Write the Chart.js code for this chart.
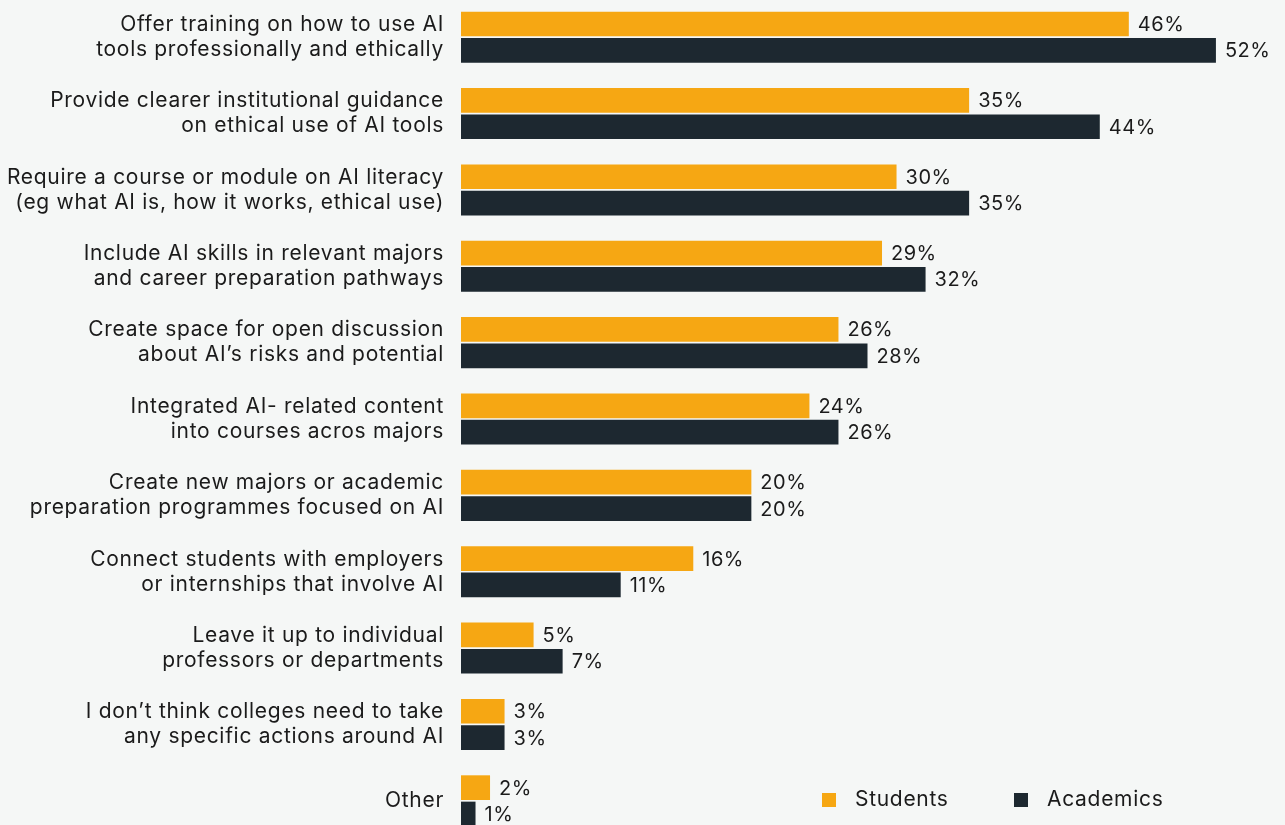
<!DOCTYPE html>
<html>
<head>
<meta charset="utf-8">
<script src="https://cdn.jsdelivr.net/npm/chart.js@4/dist/chart.umd.min.js"></script>
<style>
  html, body { margin: 0; padding: 0; background: #f5f7f6; overflow: hidden; }
  #wrap { position: absolute; left: 0; top: -1px; width: 1285px; height: 840px; }
</style>
</head>
<body>
<div id="wrap"><canvas id="grafica" width="1285" height="840"></canvas></div>
<script>
const labels = [
    ['Offer training on how to use AI', 'tools professionally and ethically'],
    ['Provide clearer institutional guidance', 'on ethical use of AI tools'],
    ['Require a course or module on AI literacy', '(eg what AI is, how it works, ethical use)'],
    ['Include AI skills in relevant majors', 'and career preparation pathways'],
    ['Create space for open discussion', 'about AI’s risks and potential'],
    ['Integrated AI- related content', 'into courses acros majors'],
    ['Create new majors or academic', 'preparation programmes focused on AI'],
    ['Connect students with employers', 'or internships that involve AI'],
    ['Leave it up to individual', 'professors or departments'],
    ['I don’t think colleges need to take', 'any specific actions around AI'],
    'Other'
]

const students = [46, 35, 30, 29, 26, 24, 20, 16, 5, 3, 2]
const academics = [52, 44, 35, 32, 28, 26, 20, 11, 7, 3, 1]

const orange = '#f6a713'
const navy = '#1d2830'
const ink = '#1b1b1b'
const fontFamily = 'Inter, "Noto Sans", sans-serif'

const graph = document.querySelector('#grafica')

// slightly wider tracking for all text on the canvas
const tracking = {
    id: 'tracking',
    beforeDraw(chart) {
        chart.ctx.letterSpacing = '0.7px'
    }
}

// percentage next to the end of every bar
const valueLabels = {
    id: 'valueLabels',
    afterDatasetsDraw(chart) {
        const ctx = chart.ctx
        ctx.save()
        ctx.letterSpacing = '0.5px'
        ctx.font = '20px ' + fontFamily
        ctx.fillStyle = ink
        ctx.textBaseline = 'middle'
        ctx.textAlign = 'left'
        chart.data.datasets.forEach((ds, i) => {
            chart.getDatasetMeta(i).data.forEach((bar, j) => {
                ctx.fillText(ds.data[j] + '%', bar.x + 9, bar.y + 1)
            })
        })
        ctx.restore()
    }
}

// legend sits in the empty space at the bottom right
const cornerLegend = {
    id: 'cornerLegend',
    afterDraw(chart) {
        const ctx = chart.ctx
        const spots = [822, 1014]
        ctx.save()
        ctx.letterSpacing = '0.7px'
        ctx.font = '21px ' + fontFamily
        ctx.textBaseline = 'middle'
        chart.data.datasets.forEach((ds, i) => {
            const x = spots[i]
            ctx.fillStyle = ds.backgroundColor
            ctx.fillRect(x, 794, 14, 14)
            ctx.fillStyle = ink
            ctx.fillText(ds.label, x + 33, 801)
        })
        ctx.restore()
    }
}

const data = {
    labels: labels,
    datasets: [
        {
            label: 'Students',
            data: students,
            backgroundColor: orange,
            categoryPercentage: 0.69,
            barPercentage: 0.937
        },
        {
            label: 'Academics',
            data: academics,
            backgroundColor: navy,
            categoryPercentage: 0.69,
            barPercentage: 0.937
        }
    ]
}

const config = {
    type: 'bar',
    data: data,
    options: {
        indexAxis: 'y',
        responsive: false,
        animation: false,
        layout: { padding: { left: 0, right: 11, top: 0, bottom: 0 } },
        plugins: {
            legend: { display: false },
            tooltip: { enabled: false }
        },
        scales: {
            x: {
                display: false,
                min: 0,
                max: 56
            },
            y: {
                afterFit(scale) {
                    scale.width = 461
                    scale.paddingTop = 0
                    scale.paddingBottom = 0
                },
                grid: { display: false, drawTicks: false },
                border: { display: false },
                ticks: {
                    padding: 17,
                    color: ink,
                    font: { family: fontFamily, size: 21, lineHeight: '25px' }
                }
            }
        }
    },
    plugins: [tracking, valueLabels, cornerLegend]
}

new Chart(graph, config)
</script>
</body>
</html>
